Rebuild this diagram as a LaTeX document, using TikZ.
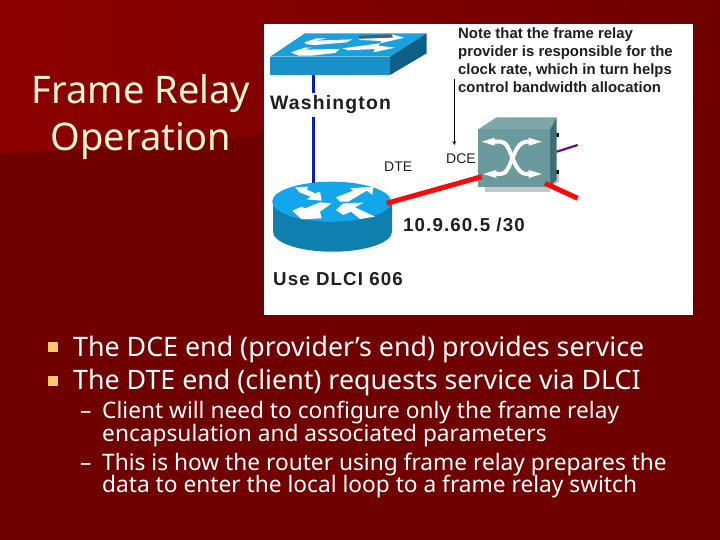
\documentclass[tikz,border=0pt]{standalone}
\usepackage{fontspec}
\setmainfont{Noto Sans}
\newfontfamily\lib{Liberation Sans}
\newfontfamily\libw[LetterSpace=6]{Liberation Sans}
\usetikzlibrary{arrows.meta}
\definecolor{bgup}{HTML}{8C0000}
\definecolor{bgmid}{HTML}{860000}
\definecolor{bglow}{HTML}{700000}
\definecolor{cream}{HTML}{FFF6D8}
\definecolor{bul}{HTML}{FFC76B}
\definecolor{swtop}{HTML}{1AA0DC}
\definecolor{swfront}{HTML}{1A90C8}
\definecolor{swside}{HTML}{0E5F85}
\definecolor{rttop}{HTML}{14A6EA}
\definecolor{rtside}{HTML}{0F7FB0}
\definecolor{cubefront}{HTML}{6B9A9E}
\definecolor{cubetop}{HTML}{7EA6A8}
\definecolor{cubeside}{HTML}{3F6F75}
\definecolor{lblue}{HTML}{0A1EB0}
\definecolor{lred}{HTML}{FA0A0A}
\definecolor{lpurple}{HTML}{6A0A8A}
\definecolor{ink}{HTML}{1E1E1E}
\tikzset{
  titletext/.style={font=\fontsize{38}{47}\selectfont,text=cream,inner sep=0pt,anchor=base},
  bodytext/.style={font=\fontsize{26.8}{33}\selectfont,text=white,anchor=base west,inner sep=0pt},
  subtext/.style={font=\fontsize{22.7}{23}\selectfont,text=white,anchor=base west,inner sep=0pt},
  notetext/.style={font=\lib\bfseries\fontsize{14.9}{18}\selectfont,text=ink,anchor=base west,inner sep=0pt},
  netlabel/.style={font=\libw\bfseries\fontsize{18.7}{18.7}\selectfont,text=ink,inner sep=0pt,anchor=base west},
  smalllabel/.style={font=\lib\fontsize{14}{14}\selectfont,text=ink,inner sep=0pt,anchor=base west},
  whitearrow/.style={fill=white,draw=none},
  zoomed/.style={x=0.3333pt,y=-0.3333pt},
}
\begin{document}
\begin{tikzpicture}[x=1pt,y=-1pt]
\useasboundingbox (0,0) rectangle (720,540);
% background
\fill[bglow] (0,0) rectangle (720,540);
\path[left color=bgup,middle color=bgmid,right color=bglow,draw=none] (0,153) .. controls (90,148) and (180,145) .. (270,133) -- (720,100) -- (720,0) -- (0,0) -- cycle;
% image panel
\fill[white] (264,24) rectangle (693,315);
% blue link
\coordinate (swbase) at (313,75);
\coordinate (rttopc) at (313,183);
\draw[lblue,line width=3pt] (swbase) -- (rttopc);
% washington switch
\fill[swtop] (270,56.7) -- (305,33.3) -- (426.7,33.3) -- (390,56.7) -- cycle;
\fill[swfront] (270,56.7) rectangle (390,75);
\fill[swside] (390,56.7) -- (426.7,33.3) -- (426.7,53.3) -- (390,75) -- cycle;
\begin{scope}[shift={(265,25)},zoomed]
\fill[whitearrow] (118,52) -- (155,40) -- (185,40) -- (150,47) -- (262,43) -- (245,52) -- (150,60) -- (125,58) -- cycle;
\fill[gray!70!black] (282,32) -- (385,28) -- (385,38) -- (282,40) -- cycle;
\fill[whitearrow] (280,42) -- (385,38) -- (380,28) -- (418,38) -- (345,55) -- (350,48) -- (285,45) -- cycle;
\fill[whitearrow] (78,82) -- (120,68) -- (140,68) -- (115,74) -- (225,72) -- (210,84) -- (140,92) -- (100,92) -- cycle;
\fill[whitearrow] (232,70) -- (345,55) -- (340,62) -- (390,68) -- (325,82) -- (330,72) -- (250,76) -- cycle;
\end{scope}
% labels
\node[netlabel,font=\libw\bfseries\fontsize{19.4}{19.4}\selectfont,fill=white,inner ysep=3pt] (wash) at (270,110) {Washington};
\node[netlabel] (dlci) at (273,285) {Use DLCI 606};
\node[netlabel] (ip) at (403,231) {10.9.60.5 /30};
\node[smalllabel] (dte) at (384,172) {DTE};
\node[smalllabel] (dce) at (446,164) {DCE};
\node[notetext] (n1) at (458,38.3) {Note that the frame relay};
\node[notetext] (n2) at (458,56.3) {provider is responsible for the};
\node[notetext] (n3) at (458,74.3) {clock rate, which in turn helps};
\node[notetext] (n4) at (458,92.3) {control bandwidth allocation};
% router
\fill[rtside] (273,201.7) -- (273,231.7) arc[start angle=180,end angle=360,x radius=59.5,y radius=-20] -- (392,201.7) -- cycle;
\fill[rttop] (331.7,201.7) ellipse[x radius=59.5,y radius=20];
\begin{scope}[shift={(265,170)},zoomed]
\fill[whitearrow] (90,52) -- (130,50) -- (125,58) -- (150,70) -- (165,65) -- (170,92) -- (125,88) -- (138,80) -- (105,68) -- cycle;
\fill[whitearrow] (213,82) -- (265,62) -- (255,55) -- (325,50) -- (322,75) -- (305,62) -- (250,95) -- (225,95) -- cycle;
\fill[whitearrow] (82,122) -- (110,110) -- (120,115) -- (165,97) -- (200,100) -- (175,118) -- (165,125) -- (170,145) -- (110,148) -- cycle;
\fill[whitearrow] (213,120) -- (235,100) -- (295,98) -- (270,112) -- (330,140) -- (285,147) -- (258,125) -- (235,135) -- cycle;
\end{scope}
% cube
\fill[gray!45] (485,186) rectangle (550,191.7);
\fill[gray!45] (556,174) -- (559,174) -- (559,182) -- (550,187) -- cycle;
\fill[black] (556,133) rectangle (559,137);
\fill[black] (556,170) rectangle (559,174);
\fill[cubetop] (478.3,129.3) -- (496.7,117.3) -- (556.7,117.3) -- (550,129.3) -- cycle;
\fill[cubefront] (478.3,129.3) rectangle (550,186.7);
\fill[cubeside] (550,129.3) -- (556.7,117.3) -- (556.7,180) -- (550,186.7) -- cycle;
\coordinate (cubeL) at (481.7,176.7);
\coordinate (rtR) at (386.7,203.3);
\coordinate (cubeR) at (545,183.3);
\coordinate (redend) at (577.7,198.3);
\coordinate (cubeP) at (556.7,151.7);
\coordinate (purend) at (577.7,145);
\draw[white,line width=4pt] (492,141.7) -- (501,141.7) .. controls (512,142) and (512,174) .. (527,174) -- (534,174);
\draw[white,line width=4pt] (492,174) -- (501,174) .. controls (512,174) and (512,142) .. (527,141.7) -- (534,141.7);
\foreach \a/\b/\c in {481.7/141.7/1,541.7/141.7/-1,483.3/174/1,541.7/174/-1}{
  \fill[white] (\a,\b) -- ({\a+\c*13},{\b-4}) -- ({\a+\c*13},{\b+4}) -- cycle;
}
\draw[lred,line width=5pt] (rtR) -- (cubeL);
\draw[lred,line width=5pt] (cubeR) -- (redend);
\draw[lpurple,line width=2.2pt] (cubeP) -- (purend);
\coordinate (notefoot) at (454.3,79.3);
\coordinate (dcehead) at (454.3,145);
\draw[-{Stealth[length=4pt,width=4pt]},black,line width=.7pt] (notefoot) -- (dcehead);
% title
\node[titletext] (t1) at (141,104) {Frame Relay};
\node[titletext] (t2) at (141,151) {Operation};
% bullets
\fill[bul] (47.5,342) rectangle (58,352);
\fill[bul] (47.5,375.5) rectangle (58,385.5);
\node[bodytext] (b1) at (73,356) {The DCE end (provider’s end) provides service};
\node[bodytext] (b2) at (73,389) {The DTE end (client) requests service via DLCI};
\node[subtext] (d1) at (80,418.5) {–};
\node[subtext] (s1) at (102,418.5) {Client will need to configure only the frame relay};
\node[subtext] (s1b) at (102,441.2) {encapsulation and associated parameters};
\node[subtext] (d2) at (80,470.2) {–};
\node[subtext] (s2) at (102,470.2) {This is how the router using frame relay prepares the};
\node[subtext] (s2b) at (102,492.8) {data to enter the local loop to a frame relay switch};
\end{tikzpicture}
\end{document}
